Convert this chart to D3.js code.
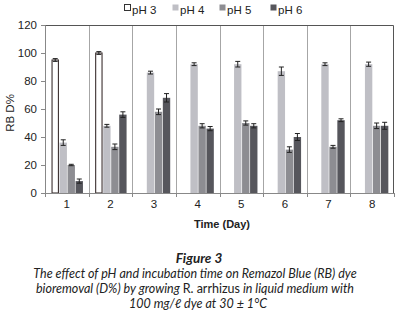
<!DOCTYPE html>
<html>
<head>
<meta charset="utf-8">
<script src="https://cdn.jsdelivr.net/npm/d3@7/dist/d3.min.js"></script>
<style>
body { margin: 0; background: #fff; }
svg { display: block; font-family: "Liberation Sans", Arial, sans-serif; }
.cap { font-family: Lato, "Open Sans", sans-serif; font-style: italic; }
</style>
</head>
<body>
<svg width="403" height="312"></svg>
<script>
// chart data
var days = ['1', '2', '3', '4', '5', '6', '7', '8'];
var seriesNames = ['pH 3', 'pH 4', 'pH 5', 'pH 6'];
var ph3 = [95, 100, 0, 0, 0, 0, 0, 0];
var ph4 = [36, 48, 86, 92, 92, 87, 92, 92];
var ph5 = [20, 33, 58, 48, 50, 31, 33, 48];
var ph6 = [8.5, 56, 68, 46, 48, 40, 52, 48];
var ph3Err = [1, 1, 0, 0, 0, 0, 0, 0];
var ph4Err = [2, 1, 1, 1, 2, 3, 1, 1.5];
var ph5Err = [0.5, 2, 2, 1.5, 1.5, 2, 1, 2];
var ph6Err = [1.5, 2, 3, 1.5, 1.5, 2.5, 1, 2.5];
var yTicks = [0, 20, 40, 60, 80, 100, 120];

var values = [ph3, ph4, ph5, ph6];
var errors = [ph3Err, ph4Err, ph5Err, ph6Err];
var fills = ['#ffffff', '#bfbfc5', '#8d8d92', '#56565c'];
var strokes = ['#3b3030', 'none', 'none', 'none'];

var svg = d3.select('svg');
var padding = {t: 25, r: 9, b: 119, l: 45};
var chartWidth = 403 - padding.l - padding.r;
var chartHeight = 312 - padding.t - padding.b;

var chartG = svg.append('g')
    .attr('transform', 'translate(' + [padding.l, padding.t] + ')');

var xScale = d3.scaleBand().domain(days).range([0, chartWidth]).padding(0);
var inner = d3.scaleBand().domain(d3.range(4))
    .range([xScale.bandwidth() * 0.15, xScale.bandwidth() * 0.87]).paddingInner(0.08);
var yScale = d3.scaleLinear().domain([0, 120]).range([chartHeight, 0]);

// category separators
chartG.selectAll('.sep')
    .data(days.slice(1))
    .enter().append('line')
    .attr('x1', function(d) { return Math.round(xScale(d)) + 0.5; })
    .attr('x2', function(d) { return Math.round(xScale(d)) + 0.5; })
    .attr('y1', 0).attr('y2', chartHeight)
    .attr('stroke', '#a6a6a6');

// top and right border
chartG.append('path')
    .attr('d', 'M0,0.5H' + (chartWidth - 0.5) + 'V' + chartHeight)
    .attr('fill', 'none').attr('stroke', '#555');

// bars
days.forEach(function(day, i) {
    values.forEach(function(vals, s) {
        if (!vals[i]) return;
        var x = xScale(day) + inner(s);
        var w = inner.bandwidth();
        chartG.append('rect')
            .attr('x', x + (s === 0 ? 0.5 : 0))
            .attr('y', yScale(vals[i]))
            .attr('width', w - (s === 0 ? 1 : 0))
            .attr('height', chartHeight - yScale(vals[i]))
            .attr('fill', fills[s])
            .attr('stroke', strokes[s])
            .attr('stroke-width', 1.1);
        var e = errors[s][i];
        var cx = x + w / 2;
        var eb = chartG.append('g').attr('stroke', '#222').attr('stroke-width', 1);
        eb.append('line').attr('x1', cx).attr('x2', cx)
            .attr('y1', yScale(vals[i] + e)).attr('y2', yScale(vals[i] - e));
        eb.append('line').attr('x1', cx - 2.5).attr('x2', cx + 2.5)
            .attr('y1', yScale(vals[i] + e)).attr('y2', yScale(vals[i] + e));
        eb.append('line').attr('x1', cx - 2.5).attr('x2', cx + 2.5)
            .attr('y1', yScale(vals[i] - e)).attr('y2', yScale(vals[i] - e));
    });
});

// axes
var yAxis = chartG.append('g')
    .call(d3.axisLeft(yScale).tickValues(yTicks).tickSize(4).tickPadding(4));
yAxis.select('.domain').attr('stroke', '#888');
yAxis.selectAll('.tick line').attr('stroke', '#888');
yAxis.selectAll('text').attr('font-size', 11.5).attr('fill', '#222')
    .attr('font-family', '"Liberation Sans", Arial, sans-serif');

var xAxis = chartG.append('g')
    .attr('transform', 'translate(0,' + chartHeight + ')')
    .call(d3.axisBottom(xScale).tickSize(0).tickPadding(7));
xAxis.select('.domain').attr('stroke', '#888');
xAxis.selectAll('text').attr('font-size', 11.5).attr('fill', '#222')
    .attr('font-family', '"Liberation Sans", Arial, sans-serif');
chartG.selectAll('.xtick')
    .data(days.concat(['end']))
    .enter().append('line')
    .attr('x1', function(d, i) { return Math.round(i * xScale.bandwidth()) + 0.5; })
    .attr('x2', function(d, i) { return Math.round(i * xScale.bandwidth()) + 0.5; })
    .attr('y1', chartHeight).attr('y2', chartHeight + 4)
    .attr('stroke', '#888');

// axis titles
svg.append('text')
    .attr('x', 222).attr('y', 228)
    .attr('text-anchor', 'middle').attr('font-size', 11).attr('font-weight', 'bold')
    .attr('fill', '#222').text('Time (Day)');
svg.append('text')
    .attr('transform', 'translate(14,113) rotate(-90)')
    .attr('text-anchor', 'middle').attr('font-size', 11.5).attr('fill', '#222')
    .text('RB D%');

// legend
var legendX = [124, 172, 219, 270];
var legend = svg.selectAll('.legend')
    .data(seriesNames)
    .enter().append('g')
    .attr('transform', function(d, i) { return 'translate(' + [legendX[i], 9] + ')'; });
legend.append('rect')
    .attr('x', 0.5).attr('y', -4.5).attr('width', 6).attr('height', 6)
    .attr('fill', function(d, i) { return fills[i]; })
    .attr('stroke', function(d, i) { return i === 0 ? '#333' : 'none'; });
legend.append('text')
    .attr('x', 8).attr('y', 4.5)
    .attr('font-size', 11.5).attr('fill', '#222')
    .text(function(d) { return d; });

// caption
svg.append('text').attr('class', 'cap')
    .attr('x', 199).attr('y', 263).attr('text-anchor', 'middle')
    .attr('font-size', 13.5).attr('font-weight', 'bold').attr('fill', '#222')
    .text('Figure 3');
var capLines = [
    'The effect of pH and incubation time on Remazol Blue (RB) dye',
    null,
    '100 mg/\u2113 dye at 30 \u00b1 1\u00b0C'
];
svg.append('text').attr('class', 'cap')
    .attr('x', 195).attr('y', 278).attr('text-anchor', 'middle')
    .attr('font-size', 12.5).attr('fill', '#222')
    .text(capLines[0]);
var line2 = svg.append('text').attr('class', 'cap')
    .attr('x', 195).attr('y', 293).attr('text-anchor', 'middle')
    .attr('font-size', 12.5).attr('fill', '#222');
line2.append('tspan').text('bioremoval (D%) by growing ');
line2.append('tspan').attr('font-style', 'normal').text('R. arrhizus');
line2.append('tspan').text(' in liquid medium with');
svg.append('text').attr('class', 'cap')
    .attr('x', 198).attr('y', 308).attr('text-anchor', 'middle')
    .attr('font-size', 12.5).attr('fill', '#222')
    .text(capLines[2]);
</script>
</body>
</html>
